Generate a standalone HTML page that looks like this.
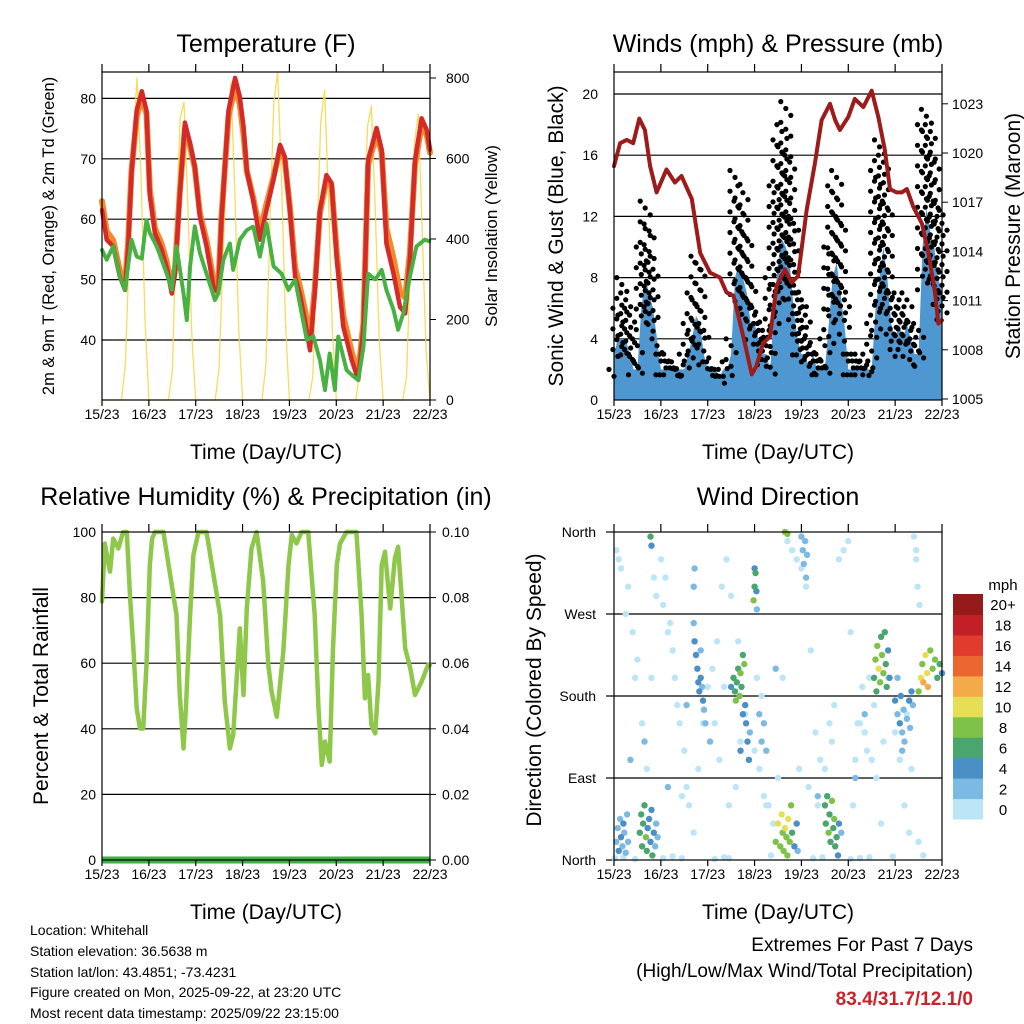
<!DOCTYPE html>
<html><head><meta charset="utf-8"><style>
html,body{margin:0;padding:0;background:#fff}
svg{display:block;font-family:"Liberation Sans",sans-serif}
</style></head><body>
<svg id="s" width="1024" height="1024" viewBox="0 0 1024 1024" xmlns="http://www.w3.org/2000/svg">
<g id="bg">
<text x="266" y="52" font-size="25" text-anchor="middle">Temperature (F)</text>
<text x="778" y="52" font-size="25" text-anchor="middle">Winds (mph) &amp; Pressure (mb)</text>
<text x="266" y="505" font-size="25" text-anchor="middle">Relative Humidity (%) &amp; Precipitation (in)</text>
<text x="778" y="505" font-size="25" text-anchor="middle">Wind Direction</text>
<text x="266" y="459" font-size="21" text-anchor="middle">Time (Day/UTC)</text>
<text x="778" y="459" font-size="21" text-anchor="middle">Time (Day/UTC)</text>
<text x="266" y="919" font-size="21" text-anchor="middle">Time (Day/UTC)</text>
<text x="778" y="919" font-size="21" text-anchor="middle">Time (Day/UTC)</text>
<text transform="translate(54,236) rotate(-90)" font-size="16.5" text-anchor="middle">2m &amp; 9m T (Red, Orange) &amp; 2m Td (Green)</text>
<text transform="translate(497,236) rotate(-90)" font-size="17" text-anchor="middle">Solar Insolation (Yellow)</text>
<text transform="translate(563,236) rotate(-90)" font-size="21" text-anchor="middle">Sonic Wind &amp; Gust (Blue, Black)</text>
<text transform="translate(1020,236) rotate(-90)" font-size="21" text-anchor="middle">Station Pressure (Maroon)</text>
<text transform="translate(48,696) rotate(-90)" font-size="21" text-anchor="middle">Percent &amp; Total Rainfall</text>
<text transform="translate(541,690) rotate(-90)" font-size="21" text-anchor="middle">Direction (Colored By Speed)</text>
<g font-size="14">
<text x="30" y="935">Location: Whitehall</text>
<text x="30" y="956">Station elevation: 36.5638 m</text>
<text x="30" y="977">Station lat/lon: 43.4851; -73.4231</text>
<text x="30" y="997">Figure created on Mon, 2025-09-22, at 23:20 UTC</text>
<text x="30" y="1018">Most recent data timestamp: 2025/09/22 23:15:00</text>
</g>
<text x="973" y="951" font-size="19" text-anchor="end">Extremes For Past 7 Days</text>
<text x="973" y="977" font-size="19" text-anchor="end">(High/Low/Max Wind/Total Precipitation)</text>
<text x="973" y="1005" font-size="19" font-weight="bold" fill="#cc2229" text-anchor="end">83.4/31.7/12.1/0</text>
</g>
</svg>
<script>
const days=['15/23','16/23','17/23','18/23','19/23','20/23','21/23','22/23'];
// Temperature 2m (red)
const tTime=[0,0.10,0.24,0.38,0.49,0.56,0.63,0.74,0.85,0.95,1.02,1.13,1.27,1.38,1.49,1.56,1.66,1.77,1.88,1.98,2.09,2.23,2.38,2.48,2.55,2.70,2.84,2.94,3.02,3.09,3.23,3.37,3.51,3.66,3.80,3.90,4.01,4.12,4.22,4.33,4.44,4.54,4.65,4.79,4.90,5.01,5.15,5.33,5.47,5.58,5.68,5.86,5.97,6.07,6.22,6.36,6.47,6.57,6.68,6.82,6.93,7.0];
const tRed=[61.5,56.6,55.5,50.5,48.3,55.5,67.6,78,81.2,78,64,57.7,55,52,47.7,51,64,76,72.6,68.7,60.4,55.5,48.8,47.7,60,78,83.4,80.3,75.4,68,63,56.6,61.5,66.5,72.3,70.4,61.5,50.5,47.7,43.3,38.3,47.7,61.5,67.3,66,53.3,42.2,36.7,33.4,42.2,69.8,75.1,71.5,56,51,45.5,44.4,53.3,69.8,76.7,74.8,71.5];
const tOrange=[63,58,56.5,51.5,49,56.5,68,77,80,77.5,65,58.5,56,53,48.5,52,64.5,75,72,68.5,61,56.5,50,48.5,60.5,77,82,79,74,68,63.5,58,62.5,67,71.5,70,62,52,49,45,40,48.5,61,66.5,65.5,54.5,44,38,34.5,43,69,74,71,58.5,53.5,48,47,54.5,69,75.5,74,71];
// Dew point (green)
const dTime=[0,0.10,0.24,0.38,0.49,0.63,0.74,0.85,0.95,1.02,1.17,1.38,1.49,1.59,1.74,1.81,1.88,1.98,2.09,2.23,2.41,2.48,2.59,2.73,2.80,2.94,3.09,3.23,3.37,3.51,3.66,3.83,3.98,4.12,4.22,4.37,4.51,4.65,4.76,4.86,4.97,5.04,5.22,5.36,5.47,5.58,5.68,5.83,5.97,6.07,6.22,6.32,6.43,6.57,6.71,6.89,7.0];
const dew=[54.9,53.3,55.5,50.5,48.3,56.6,53.8,53.5,59.9,57.7,55.5,51,48.3,55.5,47.7,43.3,52.2,58.8,54.4,51,46.6,47.7,53.3,56,51.6,56.6,58.2,58.8,53.8,59.3,52.2,51,48.3,50,46.1,40,40.6,36.7,31.7,37.8,31.7,40.6,35,34,33.4,38.9,51,50,51.6,48.3,45,41.7,44.4,50.5,55.5,56.6,56.3];
// Solar insolation (W/m2), 2-hourly starting 23 UTC day 15
const solar=[0,0,0,0,0,0,90,380,650,800,560,200,
0,0,0,0,0,0,70,420,700,740,480,160,
0,0,0,0,0,0,80,360,620,790,520,180,
0,0,0,0,0,0,90,430,740,815,540,190,
0,0,0,0,0,0,60,380,690,770,500,170,
0,0,0,0,0,0,70,400,680,730,470,150,
0,0,0,0,0,0,60,350,640,710,420,120,0];
// Winds, 2-hourly
const windHi=[3,4,4,4,3,2,2,6,8,7,6,4, 2,2,2,2,2,2,2,3,4,5.5,5,3, 2,2,2,1.5,2,2,3,8,9,8,7,5, 5,4,3,3,2,6,9,10.5,10,9,6,4, 3,3,2,3,2,2,2,5,8,9,7,5, 2,2,2,2,2,2,2,6,8,10,8,5, 4,5,4,5,4,3,3,10,12.5,11,10,8,7];
const gustHi=[2,6,8,7,6,3,4,10,13,11.5,9,4, 3,3,3,2.5,2.5,2,3,5,7,9.4,9,5, 2.5,2.5,2,2,2,2.5,4,15,13,14,11,8, 6,5,5,4,8,14,17,18,19.5,16,12,7, 7,6,4,3,3,3,4,10,14,15,12,7, 3,3,3,3,2.5,3,5,15,17,16,13,7, 6,7,6,7,5,4,5,18,19,18,16,13,12];
// Pressure
const pTime=[0,0.13,0.27,0.41,0.54,0.66,0.77,0.91,1.12,1.30,1.44,1.66,1.84,2.05,2.26,2.40,2.55,2.76,2.94,3.04,3.18,3.33,3.47,3.65,3.79,3.93,4.11,4.29,4.43,4.61,4.72,4.82,5.00,5.14,5.32,5.50,5.64,5.78,5.89,6.03,6.14,6.25,6.39,6.57,6.71,6.85,6.92,7.0];
const pres=[1019.2,1020.6,1020.8,1020.6,1022.1,1021.4,1019.2,1017.6,1019.0,1018.2,1018.6,1017.2,1013.9,1012.7,1012.4,1011.5,1011.3,1008.8,1006.5,1007.0,1008.4,1008.8,1011.9,1012.9,1012.1,1012.5,1016.5,1019.4,1022.0,1023.0,1022.0,1021.4,1022.2,1023.3,1022.8,1023.8,1022.2,1020.2,1017.8,1017.6,1017.6,1017.8,1016.7,1015.7,1013.9,1011.5,1009.6,1009.8];
// Relative humidity
const rhTime=[0,0.06,0.17,0.24,0.35,0.45,0.53,0.60,0.67,0.74,0.81,0.88,0.95,1.02,1.07,1.13,1.31,1.59,1.66,1.74,1.79,1.88,1.95,2.06,2.23,2.52,2.62,2.73,2.80,2.94,3.02,3.09,3.19,3.30,3.44,3.55,3.62,3.73,3.87,3.98,4.05,4.15,4.26,4.40,4.54,4.62,4.69,4.76,4.86,4.93,5.01,5.08,5.22,5.43,5.54,5.61,5.68,5.75,5.83,5.90,5.97,6.04,6.15,6.25,6.32,6.47,6.58,6.68,6.82,6.96,7.0];
const rh=[78.8,96.5,87.9,98,95,100,100,80,64.5,46.2,40.1,40.1,59.5,89.9,98,100,100,74.7,50.3,34,46.2,74.7,93,100,100,74.7,48.3,34,38.1,70.6,50.3,76.7,95,100,84.9,59.5,51.3,43.7,63.5,89.9,99.1,96.5,100,100,74.7,46.2,29,36.1,30,64.5,89.9,96.5,100,100,74.7,49.3,56.4,41.2,38.6,54.4,89.9,94,76.7,92,95.5,64.5,58.4,50.3,54.4,59.5,59.5];
const rain=[0,0,0,0,0,0,0,0];
// Wind direction
const dirTime=[0.05,0.08,0.1,0.13,0.15,0.18,0.2,0.22,0.25,0.28,0.3,
0.55,0.58,0.6,0.62,0.65,0.68,0.7,0.72,0.75,0.78,0.8,0.82,0.85,0.88,0.9,0.93,0.78,0.8,
1.7,1.72,1.75,1.78,1.8,1.82,1.85,1.88,1.9,1.92,1.95,1.7,1.72,
2.5,2.55,2.58,2.6,2.62,2.65,2.68,2.7,2.72,2.75,2.78,2.8,2.82,2.85,2.88,2.9,2.75,2.7,
2.98,3.0,3.02,3.0,3.04,3.05,3.1,3.15,3.2,3.25,
3.45,3.5,3.55,3.58,3.6,3.62,3.65,3.68,3.7,3.72,3.75,3.78,3.8,3.85,3.9,3.92,
4.0,4.03,4.05,4.08,4.1,4.12,3.65,3.7,
4.5,4.52,4.55,4.58,4.6,4.62,4.65,4.68,4.7,4.72,4.75,4.78,4.8,4.85,
5.55,5.58,5.6,5.62,5.65,5.68,5.7,5.72,5.75,5.78,5.8,5.82,5.85,5.88,
6.0,6.05,6.1,6.12,6.15,6.18,6.2,6.25,6.3,6.32,6.35,6.38,
6.5,6.55,6.58,6.6,6.65,6.68,6.7,6.75,6.8,6.85,6.9,6.95,7.0,
0.05,0.1,0.15,0.3,0.4,0.5,0.6,0.7,0.8,0.9,1.0,1.1,1.2,1.3,1.4,1.5,1.6,1.7,1.8,1.9,2.0,2.1,2.2,2.3,2.4,2.5,2.6,2.7,2.8,2.9,3.0,3.1,3.2,3.3,3.4,3.5,3.6,3.7,3.8,3.9,4.0,4.1,4.2,4.3,4.4,4.5,4.6,4.7,4.8,4.9,5.0,5.1,5.2,5.3,5.4,5.5,5.6,5.7,6.0,6.1,6.2,6.3,6.4,6.45,6.5,6.6,
0.02,0.2,0.45,1.05,1.25,1.45,2.15,2.35,2.45,3.35,4.25,4.45,5.05,5.25,5.45,5.95,6.45,6.48,6.52,0.35,1.15,1.55,2.05,4.35,5.15,5.35,
0.25,0.45,0.65,1.15,1.35,1.55,1.85,2.25,2.45,2.65,3.15,3.45,3.95,4.15,4.35,4.65,5.05,5.25,5.45,5.75,6.05,6.25,6.15,6.35,0.85,1.05,1.25,1.45,2.15,2.35,3.05,3.25,5.15,5.35,5.55,5.85];
const dirDeg=[20,35,10,45,25,15,40,30,8,50,20,
30,50,15,40,60,25,10,35,45,20,55,5,30,15,40,25,355,345,
260,240,225,210,195,185,200,190,175,165,150,300,320,
190,200,185,175,195,210,180,205,190,225,215,170,150,130,110,140,160,120,
285,300,315,320,295,275,160,130,150,120,
20,40,15,50,30,10,35,25,5,45,20,60,30,15,40,10,
355,340,325,350,310,335,360,358,
60,40,70,30,50,20,65,35,45,15,25,5,40,30,
200,220,185,235,210,195,245,225,205,250,215,190,230,200,
175,160,150,180,140,165,130,155,175,145,185,170,
185,200,215,195,225,205,190,230,210,220,200,215,205,
340,330,320,300,250,220,150,100,200,290,330,310,260,200,150,120,60,30,100,150,190,210,240,300,330,290,80,130,160,140,120,100,70,60,40,90,200,350,340,330,320,300,230,140,110,100,150,170,330,340,350,60,150,190,120,110,90,40,140,110,60,30,355,340,20,5,
2,3,1,2,4,2,1,3,2,5,2,3,1,2,3,4,330,300,280,110,80,170,130,70,90,160,
270,200,130,250,170,80,230,110,60,240,180,210,100,80,60,130,250,150,200,130,200,160,120,100,310,280,230,70,150,190,200,60,110,140,170,200];
const dirSpd=[3,3,4,3,4,3,4,3,3,2,2,
6,6,7,6,7,8,6,4,4,5,4,6,4,3,3,2,7,4,
3,4,4,4,4,4,4,3,4,3,2,3,3,
4,7,6,8,7,6,8,8,7,6,8,4,4,4,4,3,4,4,
8,7,6,4,4,2,3,3,2,2,
8,10,9,10,8,9,10,8,9,10,8,8,6,4,4,3,
3,3,2,3,2,2,8,8,
6,7,6,8,7,6,8,7,8,6,7,4,4,3,
7,8,6,8,10,9,7,9,8,6,7,6,5,4,
4,3,4,4,3,2,2,3,4,2,4,3,
8,10,9,12,11,10,12,8,9,8,7,6,4,
1,1,1,1,1,1,1,1,1,1,1,1,1,1,1,1,1,1,1,1,1,1,1,1,1,1,1,1,1,1,1,1,1,1,1,1,1,1,1,1,1,1,1,1,1,1,1,1,1,1,1,1,1,1,1,1,1,1,1,1,1,1,1,1,1,1,
1,1,1,1,1,1,1,1,1,1,1,1,1,1,1,1,1,1,1,3,2,2,3,2,2,3,
1,1,2,1,1,1,2,1,1,1,1,2,1,1,1,1,1,1,1,1,2,1,2,1,1,1,1,1,1,1,1,1,1,1,1,1];
const speedBins=['0','2','4','6','8','10','12','14','16','18','20+'];
const binColors=['#bde5f8','#7cb9e3','#4a8fc6','#4aa56e','#7fc24a','#e6df55','#f5aa4a','#ec6631','#e03b2d','#c21f27','#951a1c'];

const NS='http://www.w3.org/2000/svg';
const svg=document.getElementById('s');
function el(tag,attrs,parent){const e=document.createElementNS(NS,tag);for(const k in attrs)e.setAttribute(k,attrs[k]);(parent||svg).appendChild(e);return e;}
const DX=46.857;
const xL=t=>102+t*DX, xR=t=>614+t*DX;
const yT=v=>340-(v-40)*6.04, yS=w=>400-w*0.4025;
const yW=m=>400-m*15.3, yP=p=>399-(p-1005)*16.4;
const yRH=r=>860-r*3.28, yRain=r=>860-r*3280;
const yD=d=>860-d*(328/360);
function txt(x,y,s,anchor,size,parent){const t=el('text',{x:x,y:y,'font-size':size||14,'text-anchor':anchor||'middle'},parent);t.textContent=s;return t;}
function line(x1,y1,x2,y2,w,parent){return el('line',{x1:x1,y1:y1,x2:x2,y2:y2,stroke:'#000','stroke-width':w||1},parent);}

function frame(x0,y0,x1,y1,xf,name){
  const g=el('g',{});
  
  
  el('rect',{x:x0,y:y0,width:x1-x0,height:y1-y0,fill:'none',stroke:'#000','stroke-width':1.2},g);
  days.forEach((d,i)=>{const x=xf(i);line(x,y0-8,x,y0,1.2,g);line(x,y1,x,y1+6,1.2,g);
    const lb=txt(x,y1+19,d,'middle',14,g);
    
    });
  return g;
}
function poly(pts,attrs,name){const p=el('polyline',Object.assign({points:pts.map(a=>a[0].toFixed(1)+','+a[1].toFixed(1)).join(' '),fill:'none','stroke-linejoin':'round','stroke-linecap':'round'},attrs));
  
  return p;}

// ===== Panel 1 =====
[40,50,60,70,80].forEach(v=>{line(102,yT(v),430,yT(v),1.2);txt(96,yT(v)+5,String(v),'end');});
[0,200,400,600,800].forEach(w=>{line(430,yS(w),436,yS(w),1);txt(446,yS(w)+5,String(w),'start');});
poly(solar.map((w,i)=>[xL(i/12),yS(w)]),{stroke:'#f5d84a','stroke-width':1.3,opacity:0.9},'solar-insolation-line');
poly(tTime.map((t,i)=>[xL(t),yT(tOrange[i])]),{stroke:'#f08a2c','stroke-width':6},'temp-9m-line');
poly(tTime.map((t,i)=>[xL(t),yT(tRed[i])]),{stroke:'#d42a28','stroke-width':4.5},'temp-2m-line');
poly(dTime.map((t,i)=>[xL(t),yT(dew[i])]),{stroke:'#49b043','stroke-width':4,'stroke-dasharray':'3 1.5'},'dewpoint-line');
frame(102,72,430,400,xL,'temperature');

// ===== Panel 2 =====
[4,8,12,16,20].forEach(m=>line(614,yW(m),942,yW(m),1.2));
[0,4,8,12,16,20].forEach(m=>txt(598,yW(m)+5,String(m),'end'));
[1005,1008,1011,1014,1017,1020,1023].forEach(p=>{line(942,yP(p),948,yP(p),1);txt(952,yP(p)+5,String(p),'start');});
{const pts=[[xR(0),400]];windHi.forEach((m,i)=>pts.push([xR(i/12),yW(m)]));pts.push([xR((windHi.length-1)/12),400]);
 const a=el('polygon',{points:pts.map(p=>p[0].toFixed(1)+','+p[1].toFixed(1)).join(' '),fill:'#4f97d1'});
 
 }
const gg=el('g',{fill:'#000'});


gustHi.forEach((g,i)=>{const lo=Math.min(windHi[i],g)*0.7;const x=xR(i/12);
  for(let v=g,k=0;v>=lo;v-=0.45,k++){el('circle',{cx:(x+((k%3)-1)*5).toFixed(1),cy:yW(v).toFixed(1),r:2.6},gg);}
});
poly(pTime.map((t,i)=>[xR(t),yP(pres[i])]),{stroke:'#9e1b1b','stroke-width':4},'pressure-line');
frame(614,72,942,400,xR,'winds');

// ===== Panel 3 =====
[20,40,60,80].forEach(r=>line(102,yRH(r),430,yRH(r),1.2));
[0,20,40,60,80,100].forEach(r=>txt(96,yRH(r)+5,String(r),'end'));
[0,0.02,0.04,0.06,0.08,0.10].forEach(r=>{line(430,yRain(r),436,yRain(r),1);txt(442,yRain(r)+5,r.toFixed(2),'start');});
poly(rhTime.map((t,i)=>[xL(t),yRH(rh[i])]),{stroke:'#8ec74a','stroke-width':4.5},'rh-line');
poly(rain.map((r,i)=>[xL(i),yRain(r)]),{stroke:'#3fae45','stroke-width':7,'stroke-linecap':'butt'},'precip-line');
frame(102,532,430,860,xL,'humidity');

// ===== Panel 4 =====
const dirLabels=['North','East','South','West','North'];
[90,180,270].forEach(d=>line(614,yD(d),942,yD(d),1.2));
dirLabels.forEach((s,i)=>{line(606,yD(i*90),614,yD(i*90),1.2);txt(596,yD(i*90)+5,s,'end');});
const dg=el('g',{});


const order=dirSpd.map((s,i)=>i).sort((a,b)=>dirSpd[a]-dirSpd[b]);
order.forEach(i=>{const b=Math.min(10,Math.floor(dirSpd[i]/2));
  const c=el('circle',{cx:xR(dirTime[i]).toFixed(1),cy:yD(dirDeg[i]).toFixed(1),r:3.2,fill:binColors[b]},dg);
  
  });
frame(614,532,942,860,xR,'direction');
// legend
const lg=el('g',{});


txt(1003,590,'mph','middle',15,lg);
const bh=225/11;
speedBins.forEach((s,i)=>{const y=819-(i+1)*bh;
  const r=el('rect',{x:953,y:y.toFixed(1),width:30,height:(bh+0.5).toFixed(1),fill:binColors[i]},lg);
  
  
  txt(1003,y+bh/2+6,s,'middle',15,lg);});
</script>
</body></html>
